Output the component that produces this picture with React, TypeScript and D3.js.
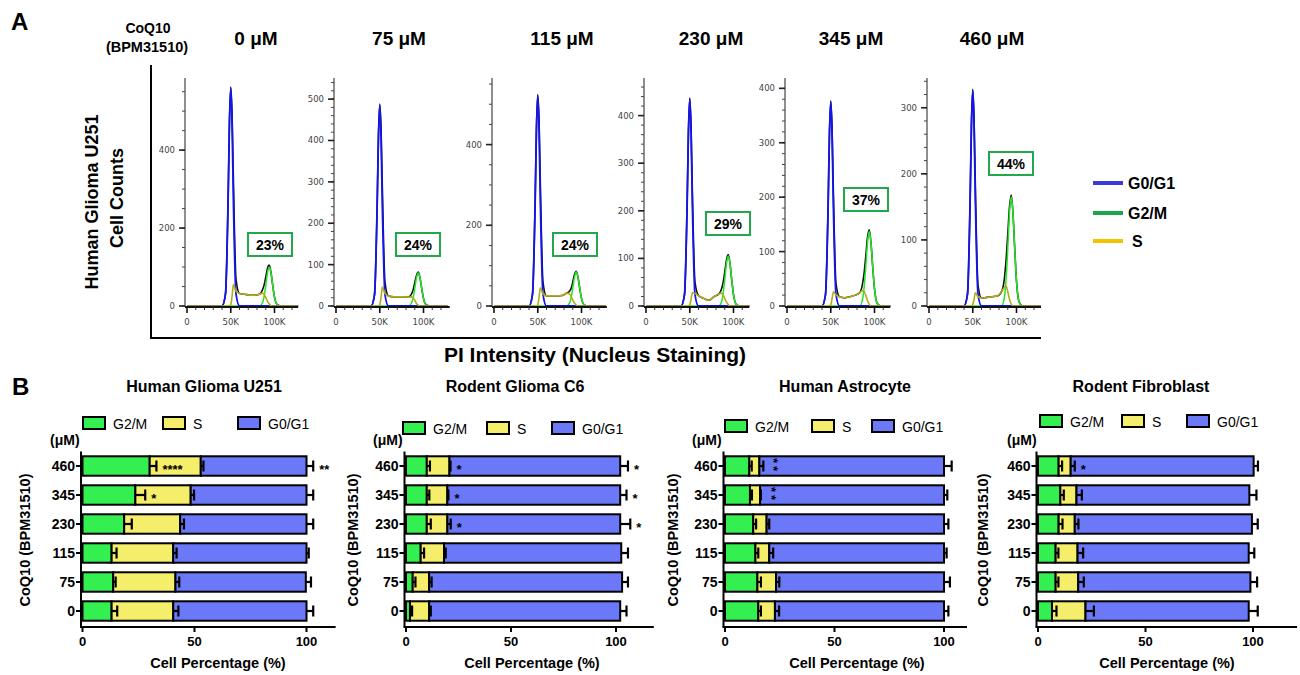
import React from "react";
import * as d3 from "d3";

const FONT = "'Liberation Sans', Arial, Helvetica, sans-serif";

// ---------- Panel A: PI histograms (x in thousands) ----------
const doseTitles = ["0 μM", "75 μM", "115 μM", "230 μM", "345 μM", "460 μM"];
const g2mBoxText = ["23%", "24%", "24%", "29%", "37%", "44%"];
const piK = [0, 40, 44, 47, 48.5, 50, 51.5, 53, 56, 60, 66, 72, 78, 83, 86, 88, 90, 92, 94, 96, 98, 100, 103, 107, 128];
const g0g1Counts = [
  [0, 0, 31, 274, 470, 559, 470, 274, 31, 0, 0, 0, 0, 0, 0, 0, 0, 0, 0, 0, 0, 0, 0, 0, 0],
  [0, 0, 27, 238, 407, 485, 407, 238, 27, 0, 0, 0, 0, 0, 0, 0, 0, 0, 0, 0, 0, 0, 0, 0, 0],
  [0, 0, 29, 255, 438, 521, 438, 255, 29, 0, 0, 0, 0, 0, 0, 0, 0, 0, 0, 0, 0, 0, 0, 0, 0],
  [0, 0, 24, 213, 365, 435, 365, 213, 24, 0, 0, 0, 0, 0, 0, 0, 0, 0, 0, 0, 0, 0, 0, 0, 0],
  [0, 0, 21, 184, 315, 375, 315, 184, 21, 0, 0, 0, 0, 0, 0, 0, 0, 0, 0, 0, 0, 0, 0, 0, 0],
  [0, 0, 18, 160, 274, 326, 274, 160, 18, 0, 0, 0, 0, 0, 0, 0, 0, 0, 0, 0, 0, 0, 0, 0, 0],
];
const g2mCounts = [
  [0, 0, 0, 0, 0, 0, 0, 0, 0, 0, 0, 0, 0, 0, 7, 23, 52, 85, 100, 85, 52, 23, 4, 0, 0],
  [0, 0, 0, 0, 0, 0, 0, 0, 0, 0, 0, 0, 0, 0, 6, 18, 42, 68, 80, 68, 42, 18, 3, 0, 0],
  [0, 0, 0, 0, 0, 0, 0, 0, 0, 0, 0, 0, 0, 0, 6, 19, 44, 71, 84, 71, 44, 19, 3, 0, 0],
  [0, 0, 0, 0, 0, 0, 0, 0, 0, 0, 0, 0, 0, 0, 7, 24, 55, 89, 105, 89, 55, 24, 4, 0, 0],
  [0, 0, 0, 0, 0, 0, 0, 0, 0, 0, 0, 0, 0, 0, 10, 32, 71, 116, 137, 116, 71, 32, 5, 0, 0],
  [0, 0, 0, 0, 0, 0, 0, 0, 0, 0, 0, 0, 0, 0, 12, 38, 86, 140, 165, 140, 86, 38, 6, 0, 0],
];
const sCounts = [
  [0, 0, 0, 0, 0, 3, 25, 55, 38, 32, 30, 28, 28, 30, 33, 30, 22, 12, 5, 1, 0, 0, 0, 0, 0],
  [0, 0, 0, 0, 0, 3, 22, 46, 30, 24, 22, 22, 22, 21, 22, 20, 14, 6, 2, 0, 0, 0, 0, 0, 0],
  [0, 0, 0, 0, 0, 3, 22, 45, 30, 25, 25, 25, 26, 32, 30, 24, 15, 7, 2, 0, 0, 0, 0, 0, 0],
  [0, 0, 0, 0, 0, 2, 14, 28, 26, 22, 16, 12, 20, 25, 27, 24, 16, 8, 3, 0, 0, 0, 0, 0, 0],
  [0, 0, 0, 0, 0, 2, 13, 26, 20, 17, 15, 17, 20, 24, 28, 27, 20, 10, 3, 0, 0, 0, 0, 0, 0],
  [0, 0, 0, 0, 0, 2, 10, 20, 14, 12, 13, 14, 15, 22, 28, 30, 22, 10, 3, 0, 0, 0, 0, 0, 0],
];
const countMax = [585, 551, 565, 479, 419, 345];
const countStep = [200, 100, 200, 100, 100, 100];
const countMinor = [50, 20, 50, 20, 20, 20];
const piMaxK = [127, 130, 129, 118, 118, 128];
const piTicks = [0, 50, 100];
const piTickLabels = ["0", "50K", "100K"];

// layout of the six small plots
const histX0 = [187, 336, 494, 646, 787, 929];
const histBox = [
  [248, 233], [396, 233], [553, 233], [706, 212], [844, 188], [989, 152],
];
const titleX = [256, 399, 562, 711, 851, 992];

// ---------- Panel B: stacked bars ----------
const doseRows = ["460", "345", "230", "115", "75", "0"];
const cellTitles = ["Human Glioma U251", "Rodent Glioma C6", "Human Astrocyte", "Rodent Fibroblast"];
const g2mPct = [
  [30.0, 23.6, 18.6, 13.0, 13.7, 13.0],
  [9.9, 9.9, 9.9, 7.0, 3.2, 1.9],
  [11.1, 11.4, 12.9, 13.9, 14.8, 15.2],
  [9.6, 10.4, 9.6, 8.2, 8.2, 6.5],
];
const sPct = [
  [22.8, 24.7, 25.0, 27.5, 27.8, 27.5],
  [10.8, 9.8, 9.8, 11.1, 7.8, 9.1],
  [4.6, 4.6, 6.1, 6.3, 8.5, 7.6],
  [5.6, 7.5, 7.5, 10.2, 10.5, 15.6],
];
const g0g1Pct = [
  [47.2, 51.7, 56.4, 59.5, 58.2, 59.5],
  [81.3, 82.3, 82.3, 84.4, 91.9, 91.0],
  [84.3, 84.0, 81.0, 79.8, 76.7, 77.2],
  [85.1, 80.4, 82.4, 79.6, 80.1, 75.9],
];
const g2mSD = [
  [3.0, 4.4, 3.4, 2.2, 1.1, 2.5],
  [1.5, 1.2, 1.9, 1.6, 1.3, 1.0],
  [1.1, 0.9, 1.3, 1.3, 1.6, 1.2],
  [1.6, 1.6, 1.8, 1.3, 1.3, 2.1],
];
const sSD = [
  [1.2, 1.5, 1.7, 1.5, 1.7, 2.3],
  [0.5, 0.5, 1.6, 0.8, 1.2, 0.8],
  [1.8, 0.4, 1.2, 1.8, 1.5, 1.9],
  [1.9, 2.5, 1.7, 2.6, 2.6, 3.9],
];
const g0g1SD = [
  [3.0, 3.0, 3.0, 1.0, 2.3, 3.0],
  [3.7, 3.0, 4.8, 3.2, 2.8, 3.0],
  [3.5, 1.5, 2.0, 1.2, 2.7, 2.0],
  [2.0, 3.3, 2.7, 2.6, 3.1, 4.2],
];
// significance marks: [row, phase index (0 G2/M, 1 S, 2 G0/G1), mark, stacked vertically]
const sigMarks: [string, number, string, boolean][][] = [
  [["460", 0, "****", false], ["460", 2, "**", false], ["345", 0, "*", false]],
  [
    ["460", 1, "*", false], ["460", 2, "*", false], ["345", 1, "*", false],
    ["345", 2, "*", false], ["230", 1, "*", false], ["230", 2, "*", false],
  ],
  [["460", 1, "**", true], ["345", 1, "**", true]],
  [["460", 1, "*", false]],
];
const phaseKeys = ["g2m", "s", "g1"];
const phaseNames = ["G2/M", "S", "G0/G1"];
const barColors = ["#34ef50", "#f4ee6a", "#6b79f8"];

const barLayout = [
  { x0: 82.5, px: 224, max: 113, titleX: 204, legX: [83, 163, 238], legY: 417, umX: 50, ytX: 25, xtX: 218 },
  { x0: 406, px: 210, max: 118, titleX: 515, legX: [403, 487, 552], legY: 422, umX: 373, ytX: 353, xtX: 532 },
  { x0: 725, px: 219, max: 110.5, titleX: 845, legX: [725, 812, 872], legY: 420, umX: 692, ytX: 673, xtX: 857 },
  { x0: 1038, px: 215, max: 120.5, titleX: 1141, legX: [1040, 1122, 1187], legY: 415, umX: 1007, ytX: 983, xtX: 1167 },
];

const Histogram = ({ i }: { i: number }) => {
  const x0 = histX0[i];
  const x = d3.scaleLinear().domain([0, piMaxK[i]]).range([x0, x0 + piMaxK[i] * 0.875]);
  const y = d3.scaleLinear().domain([0, countMax[i]]).range([306, 78]);
  const line = d3
    .line<number>()
    .x((_, j) => x(piK[j]))
    .y((v) => y(v))
    .curve(d3.curveMonotoneX);
  const total = piK.map((_, j) => g0g1Counts[i][j] + g2mCounts[i][j] + sCounts[i][j]);
  const ax = x0 - 2;
  const xEnd = x.range()[1];
  const majors = d3.range(0, countMax[i] + 1, countStep[i]);
  const minors = d3.range(0, countMax[i], countMinor[i]);
  const [bx, by] = histBox[i];
  return (
    <g>
      <defs>
        <clipPath id={`hc${i}`}>
          <rect x={ax} y={60} width={xEnd - ax} height={248} />
        </clipPath>
      </defs>
      <g clipPath={`url(#hc${i})`}>
        <path d={line(total) || ""} fill="none" stroke="#111" strokeWidth={1.6} />
        <path d={line(g2mCounts[i]) || ""} fill="none" stroke="#22e822" strokeWidth={1.5} />
        <path d={line(g0g1Counts[i]) || ""} fill="none" stroke="#1414f0" strokeWidth={1.8} />
        <path d={line(sCounts[i]) || ""} fill="none" stroke="#b3ab1e" strokeWidth={1.6} />
      </g>
      <line x1={ax} x2={ax} y1={78} y2={307} stroke="#444" strokeWidth={1.2} />
      {minors.map((v) => (
        <line key={"m" + v} x1={ax - 3} x2={ax} y1={y(v)} y2={y(v)} stroke="#444" strokeWidth={1} />
      ))}
      {majors.map((v) => (
        <g key={v}>
          <line x1={ax - 6} x2={ax} y1={y(v)} y2={y(v)} stroke="#222" strokeWidth={1.6} />
          <text x={ax - 10} y={y(v) + 3} textAnchor="end" fontSize={8.5} fill="#444" fontFamily="'DejaVu Sans', sans-serif">
            {v}
          </text>
        </g>
      ))}
      <line x1={ax} x2={xEnd} y1={307} y2={307} stroke="#111" strokeWidth={1.8} />
      {d3.range(10, piMaxK[i], 10).map((v) => (
        <line key={"xm" + v} x1={x(v)} x2={x(v)} y1={307} y2={310} stroke="#333" strokeWidth={1} />
      ))}
      {piTicks.map((v, k) => (
        <g key={v}>
          <line x1={x(v)} x2={x(v)} y1={307} y2={313} stroke="#111" strokeWidth={1.6} />
          <text x={x(v)} y={325} textAnchor="middle" fontSize={8.5} fill="#444" fontFamily="'DejaVu Sans', sans-serif">
            {piTickLabels[k]}
          </text>
        </g>
      ))}
      <rect x={bx} y={by} width={44} height={23} fill="#fff" stroke="#22a84a" strokeWidth={2} />
      <text x={bx + 22} y={by + 16.5} textAnchor="middle" fontSize={14} fontWeight="bold" fontFamily={FONT}>
        {g2mBoxText[i]}
      </text>
      <text x={titleX[i]} y={45} textAnchor="middle" fontSize={19} fontWeight="bold" fontFamily={FONT}>
        {doseTitles[i]}
      </text>
    </g>
  );
};

const BarPanel = ({ c }: { c: number }) => {
  const P = barLayout[c];
  const table = doseRows.map((r, j) => ({ row: r, g2m: g2mPct[c][j], s: sPct[c][j], g1: g0g1Pct[c][j] }));
  const sds = [g2mSD[c], sSD[c], g0g1SD[c]];
  const series = d3.stack<any>().keys(phaseKeys)(table);
  const x = d3.scaleLinear().domain([0, P.max]).range([P.x0, P.x0 + (P.px * P.max) / 100]);
  const y = d3.scaleBand<string>().domain(doseRows).range([451.5, 625.5]).paddingInner(0.33).paddingOuter(0.165);
  const bw = y.bandwidth();
  const ax = P.x0 - 1.5;
  const axY = 627;
  return (
    <g fontFamily={FONT}>
      <text x={P.titleX} y={392} textAnchor="middle" fontSize={16} fontWeight="bold">
        {cellTitles[c]}
      </text>
      {phaseNames.map((n, k) => (
        <g key={n}>
          <rect x={P.legX[k]} y={P.legY} width={22} height={12} fill={barColors[k]} stroke="#000" strokeWidth={2} />
          <text x={P.legX[k] + 30} y={P.legY + 12} fontSize={14}>
            {n}
          </text>
        </g>
      ))}
      <text x={P.umX} y={445} fontSize={14} fontWeight="bold">
        (μM)
      </text>
      {series.map((s, k) =>
        s.map((d, j) => (
          <rect
            key={`${k}-${j}`}
            x={x(d[0])}
            y={y(doseRows[j])}
            width={x(d[1]) - x(d[0])}
            height={bw}
            fill={barColors[k]}
            stroke="#000"
            strokeWidth={2}
          />
        ))
      )}
      {series.map((s, k) =>
        s.map((d, j) => {
          const yc = (y(doseRows[j]) as number) + bw / 2;
          const xe = x(d[1] + sds[k][j]);
          return (
            <g key={`e${k}-${j}`} stroke="#000" strokeWidth={2.2}>
              <line x1={x(d[1])} x2={xe} y1={yc} y2={yc} />
              <line x1={xe} x2={xe} y1={yc - 5.5} y2={yc + 5.5} />
            </g>
          );
        })
      )}
      {sigMarks[c].map(([r, k, mark, stacked], m) => {
        const j = doseRows.indexOf(r);
        const d = series[k][j];
        const xs = x(d[1] + sds[k][j]) + 6;
        const yc = (y(r) as number) + bw / 2;
        if (stacked) {
          return (
            <text
              key={m}
              transform={`translate(${xs},${yc - 8}) rotate(90)`}
              fontSize={13}
              fontWeight="bold"
              letterSpacing={3}
            >
              {mark}
            </text>
          );
        }
        return (
          <text key={m} x={xs} y={yc + 8} fontSize={13} fontWeight="bold">
            {mark}
          </text>
        );
      })}
      <line x1={ax} x2={ax} y1={451.5} y2={axY} stroke="#000" strokeWidth={2} />
      {doseRows.map((r) => {
        const yc = (y(r) as number) + bw / 2;
        return (
          <g key={r}>
            <line x1={ax - 5} x2={ax} y1={yc} y2={yc} stroke="#000" strokeWidth={2} />
            <text x={ax - 6} y={yc + 5} textAnchor="end" fontSize={14} fontWeight="bold">
              {r}
            </text>
          </g>
        );
      })}
      <line x1={ax - 1} x2={x(P.max)} y1={axY} y2={axY} stroke="#000" strokeWidth={2} />
      {[0, 50, 100].map((v) => (
        <g key={v}>
          <line x1={x(v)} x2={x(v)} y1={axY} y2={axY + 5} stroke="#000" strokeWidth={2} />
          <text x={x(v)} y={646} textAnchor="middle" fontSize={13} fontWeight="bold">
            {v}
          </text>
        </g>
      ))}
      <text x={P.xtX} y={668} textAnchor="middle" fontSize={14.5} fontWeight="bold">
        Cell Percentage (%)
      </text>
      <text
        transform={`translate(${P.ytX},540) rotate(-90)`}
        textAnchor="middle"
        dominantBaseline="central"
        fontSize={14.5}
        fontWeight="bold"
      >
        CoQ10 (BPM31510)
      </text>
    </g>
  );
};

const legendA = [
  { name: "G0/G1", color: "#3a3ad8", y: 183 },
  { name: "G2/M", color: "#1aa64a", y: 213 },
  { name: "S", color: "#f5c200", y: 241 },
];

export default function App() {
  return (
    <svg width={1300} height={675} style={{ position: "absolute", left: 0, top: 0, background: "#fff" }}>
      <rect width={1300} height={675} fill="#fff" />
      <g fontFamily={FONT}>
        <text x={11} y={30} fontSize={24} fontWeight="bold">A</text>
        <text x={148} y={33} textAnchor="middle" fontSize={14} fontWeight="bold">CoQ10</text>
        <text x={147} y={52} textAnchor="middle" fontSize={14.5} fontWeight="bold">(BPM31510)</text>
        <text transform="translate(92,202) rotate(-90)" textAnchor="middle" dominantBaseline="central" fontSize={18} fontWeight="bold">
          Human Glioma U251
        </text>
        <text transform="translate(117,198) rotate(-90)" textAnchor="middle" dominantBaseline="central" fontSize={18} fontWeight="bold">
          Cell Counts
        </text>
        <line x1={151} x2={151} y1={65} y2={339} stroke="#000" strokeWidth={2} />
        <line x1={150} x2={1041} y1={338} y2={338} stroke="#000" strokeWidth={2} />
        <text x={595} y={362} textAnchor="middle" fontSize={21} fontWeight="bold">
          PI Intensity (Nucleus Staining)
        </text>
        {legendA.map((l) => (
          <g key={l.name}>
            <line x1={1093} x2={1123} y1={l.y} y2={l.y} stroke={l.color} strokeWidth={4} />
            <text x={l.name === "S" ? 1132 : 1128} y={l.y + 6} fontSize={16} fontWeight="bold">
              {l.name}
            </text>
          </g>
        ))}
        <text x={12} y={395} fontSize={24} fontWeight="bold">B</text>
      </g>
      {doseTitles.map((_, i) => (
        <Histogram key={i} i={i} />
      ))}
      {cellTitles.map((_, c) => (
        <BarPanel key={c} c={c} />
      ))}
    </svg>
  );
}
